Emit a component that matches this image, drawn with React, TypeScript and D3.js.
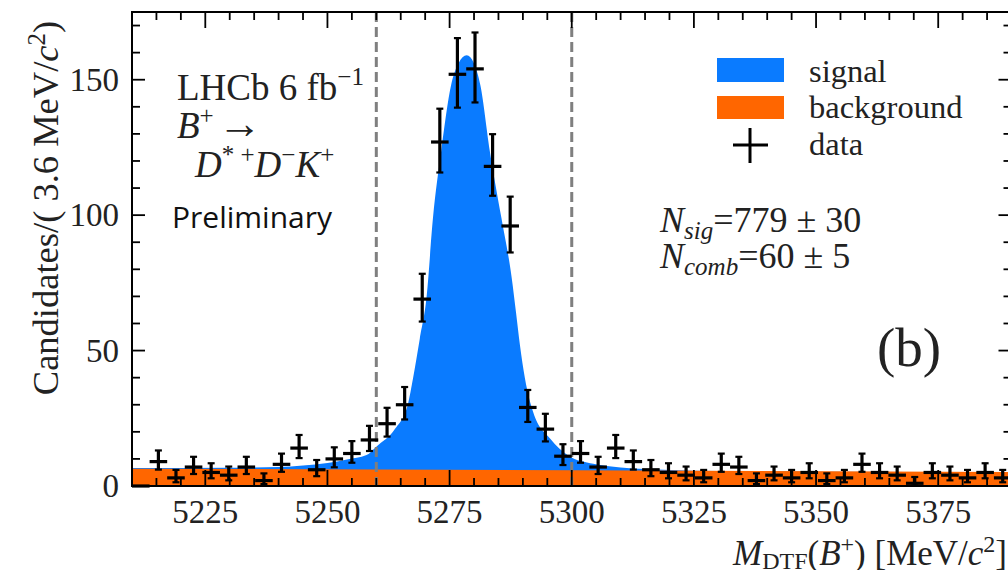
import React from 'react';
import * as d3 from 'd3';

// histogram: 50 bins of 3.6 MeV starting at 5210
const binStart = 5210;
const binWidth = 3.6;
const counts = [
  0, 9, 3, 7, 5, 4, 7, 2, 8, 14,
  6, 10, 12, 17, 23, 30, 69, 127, 152, 154,
  118, 96, 29, 21, 11, 12, 7, 14, 9, 6,
  5, 4, 3, 8, 7, 2, 4, 3, 5, 2,
  3, 8, 5, 4, 1, 5, 4, 3, 5, 3,
];

// total fit model (signal + background)
const modelMass = [
  5210, 5230, 5240, 5245, 5250, 5254, 5258, 5260, 5263.8, 5266.5,
  5267.5, 5268.9, 5270.3, 5271.6, 5273.3, 5275.3, 5276.8, 5278.5, 5280, 5281.3,
  5283.2, 5285.6, 5287.7, 5288.6, 5289.4, 5290.4, 5292.1, 5295.6, 5299.3, 5304.4,
  5310, 5320, 5330, 5350, 5390,
];
const modelValue = [
  6.6, 6.7, 7.0, 7.6, 8.5, 9.8, 11.4, 14.5, 21, 30.4,
  39.6, 54.4, 70, 99, 124, 148, 156, 159, 156, 148,
  124, 99, 77, 64, 52, 40, 27.3, 17.4, 11.2, 8.2,
  6.8, 5.9, 5.5, 5.3, 5.2,
];

// combinatorial background band
const bgMass = [5210, 5390];
const bgValue = [6.4, 5.2];

const xMajorTicks = [5225, 5250, 5275, 5300, 5325, 5350, 5375];
const yMajorTicks = [0, 50, 100, 150];
const signalWindow = [5260, 5300];

const serif = '"Liberation Serif", "Times New Roman", serif';
const blue = '#0a7bff';
const orange = '#ff6600';

const App = () => {
  const x = d3.scaleLinear().domain([5210, 5390]).range([132, 1011.5]);
  const y = d3.scaleLinear().domain([0, 175]).range([486, 12]);
  const [x0, x1] = x.range();
  const [yb, yt] = y.range();

  const model = modelMass.map((m, i) => ({ m, v: modelValue[i] }));
  const bg = bgMass.map((m, i) => ({ m, v: bgValue[i] }));

  const area = d3.area<{ m: number; v: number }>()
    .x(d => x(d.m))
    .y0(y(0))
    .y1(d => y(d.v))
    .curve(d3.curveMonotoneX);

  const xMinor = d3.range(5210, 5391, 5).filter(t => !xMajorTicks.includes(t));
  const yMinor = d3.range(0, 176, 10).filter(t => !yMajorTicks.includes(t));

  // Gehrels approximation for Poisson intervals
  const errUp = (n: number) => Math.sqrt(n + 0.75) + 1;
  const errLo = (n: number) => n - n * Math.pow(1 - 1 / (9 * n) - 1 / (3 * Math.sqrt(n)), 3);

  return (
    <svg width={1008} height={570} style={{ position: 'absolute', left: 0, top: 0, background: '#fff' }}>
      <path d={area(model) || ''} fill={blue} />
      <path d={area(bg) || ''} fill={orange} />

      {/* signal window */}
      {signalWindow.map(m => (
        <line key={m} x1={x(m)} x2={x(m)} y1={yt} y2={yb} stroke="#7f7f7f" strokeWidth={3} strokeDasharray="10 5" />
      ))}

      {/* ticks */}
      <g stroke="#000" strokeWidth={1.8}>
        {xMajorTicks.map(t => (
          <g key={'xm' + t}>
            <line x1={x(t)} x2={x(t)} y1={yb} y2={yb - 16} />
            <line x1={x(t)} x2={x(t)} y1={yt} y2={yt + 16} />
          </g>
        ))}
        {xMinor.map(t => (
          <g key={'xn' + t}>
            <line x1={x(t)} x2={x(t)} y1={yb} y2={yb - 8} />
            <line x1={x(t)} x2={x(t)} y1={yt} y2={yt + 8} />
          </g>
        ))}
        {yMajorTicks.map(t => (
          <g key={'ym' + t}>
            <line x1={x0} x2={x0 + 13} y1={y(t)} y2={y(t)} />
            <line x1={x1} x2={x1 - 13} y1={y(t)} y2={y(t)} />
          </g>
        ))}
        {yMinor.map(t => (
          <g key={'yn' + t}>
            <line x1={x0} x2={x0 + 8} y1={y(t)} y2={y(t)} />
            <line x1={x1} x2={x1 - 8} y1={y(t)} y2={y(t)} />
          </g>
        ))}
      </g>

      {/* data */}
      <g stroke="#000" strokeWidth={3.2}>
        {counts.map((n, i) => {
          const c = binStart + binWidth * (i + 0.5);
          const cx = x(c);
          const hi = y(n + errUp(n));
          const lo = y(n > 0 ? n - errLo(n) : 0);
          return (
            <g key={i}>
              <line x1={x(c - binWidth / 2)} x2={x(c + binWidth / 2)} y1={y(n)} y2={y(n)} />
              {n > 0 && (
                <>
                  <line x1={cx} x2={cx} y1={hi} y2={lo} />
                  <line x1={cx - 3.5} x2={cx + 3.5} y1={hi} y2={hi} strokeWidth={2.2} />
                  <line x1={cx - 3.5} x2={cx + 3.5} y1={lo} y2={lo} strokeWidth={2.2} />
                </>
              )}
            </g>
          );
        })}
      </g>

      <rect x={x0} y={yt} width={x1 - x0} height={yb - yt} fill="none" stroke="#000" strokeWidth={2} />

      {/* tick labels */}
      <g fontFamily={serif} fontSize={33} fill="#222">
        {xMajorTicks.map(t => (
          <text key={t} x={x(t)} y={523} textAnchor="middle">{t}</text>
        ))}
        {yMajorTicks.map(t => (
          <text key={t} x={119} y={y(t) + 11} textAnchor="end">{t}</text>
        ))}
      </g>

      {/* axis titles */}
      <text transform="translate(58,208) rotate(-90)" textAnchor="middle" fontFamily={serif} fontSize={36.5} fill="#222">
        Candidates/( 3.6 MeV/<tspan fontStyle="italic">c</tspan>
        <tspan fontSize={25} dy={-13}>2</tspan>
        <tspan dy={13}>)</tspan>
      </text>
      <text x={1007} y={565} textAnchor="end" fontFamily={serif} fontSize={35} fill="#222">
        <tspan fontStyle="italic">M</tspan>
        <tspan fontSize={24} dy={4}>DTF</tspan>
        <tspan dy={-4}>(</tspan>
        <tspan fontStyle="italic">B</tspan>
        <tspan fontSize={24} dy={-13}>+</tspan>
        <tspan dy={13}>) [MeV/</tspan>
        <tspan fontStyle="italic">c</tspan>
        <tspan fontSize={24} dy={-13}>2</tspan>
        <tspan dy={13}>]</tspan>
      </text>

      {/* left annotations */}
      <g fontFamily={serif} fontSize={37} fill="#222">
        <text x={177} y={100}>
          LHCb 6 fb<tspan fontSize={25} dy={-15}>−1</tspan>
        </text>
        <text x={177} y={138}>
          <tspan fontStyle="italic">B</tspan>
          <tspan fontSize={25} dy={-14}>+</tspan>
          <tspan dy={14} dx={4} fontSize={44}>→</tspan>
        </text>
        <text x={195} y={177}>
          <tspan fontStyle="italic">D</tspan>
          <tspan fontSize={25} dy={-14}>* +</tspan>
          <tspan fontStyle="italic" dy={14}>D</tspan>
          <tspan fontSize={25} dy={-14}>−</tspan>
          <tspan fontStyle="italic" dy={14}>K</tspan>
          <tspan fontSize={25} dy={-14}>+</tspan>
        </text>
      </g>
      <text x={172} y={228} fontFamily='"Open Sans", "Noto Sans", sans-serif' fontSize={30} fill="#111">Preliminary</text>

      {/* legend */}
      <rect x={717} y={58} width={67} height={24} fill={blue} />
      <rect x={717} y={96} width={67} height={23} fill={orange} />
      <g stroke="#000" strokeWidth={3}>
        <line x1={733} x2={768} y1={145} y2={145} />
        <line x1={750} x2={750} y1={128} y2={163} />
      </g>
      <g fontFamily={serif} fontSize={32.5} fill="#222">
        <text x={809} y={82}>signal</text>
        <text x={809} y={118}>background</text>
        <text x={809} y={155}>data</text>
      </g>

      <g fontFamily={serif} fontSize={36} fill="#222">
        <text x={660} y={232}>
          <tspan fontStyle="italic">N</tspan>
          <tspan fontStyle="italic" fontSize={25} dy={7}>sig</tspan>
          <tspan dy={-7}>=779 ± 30</tspan>
        </text>
        <text x={660} y={268}>
          <tspan fontStyle="italic">N</tspan>
          <tspan fontStyle="italic" fontSize={25} dy={7}>comb</tspan>
          <tspan dy={-7}>=60 ± 5</tspan>
        </text>
      </g>
      <text x={877} y={366} fontFamily={serif} fontSize={55} fill="#222">(b)</text>
    </svg>
  );
};

export default App;
